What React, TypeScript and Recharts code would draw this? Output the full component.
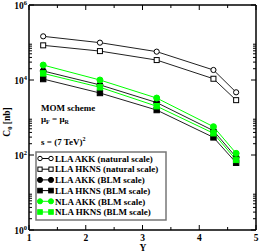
import { LineChart, Line, XAxis, YAxis } from 'recharts';

// rapidity points
const rapidity = [1.25, 2.25, 3.25, 4.25, 4.65];

// C0 [nb]
const llaAkkNatural = [146000, 99000, 57000, 18500, 4700];
const llaHknsNatural = [84000, 59000, 34000, 10800, 2900];
const llaAkkBlm = [17400, 7400, 2500, 445, 87];
const llaHknsBlm = [10600, 4500, 1580, 295, 62];
const nlaAkkBlm = [25000, 10000, 3300, 569, 111];
const nlaHknsBlm = [15000, 6400, 2000, 380, 74];

const xMajorTicks = [1, 2, 3, 4, 5];
const xMinorTicks = [1.5, 2.5, 3.5, 4.5];
const yMajorTicks = [1, 100, 10000, 1000000];
const yExponents = ['0', '2', '4', '6'];
const yMinorTicks = [
  2, 3, 4, 5, 6, 7, 8, 9,
  200, 300, 400, 500, 600, 700, 800, 900,
  20000, 30000, 40000, 50000, 60000, 70000, 80000, 90000,
];

const data = rapidity.map((y, i) => ({
  y,
  llaAkkNatural: llaAkkNatural[i],
  llaHknsNatural: llaHknsNatural[i],
  llaAkkBlm: llaAkkBlm[i],
  llaHknsBlm: llaHknsBlm[i],
  nlaAkkBlm: nlaAkkBlm[i],
  nlaHknsBlm: nlaHknsBlm[i],
}));

const FONT = '"Liberation Serif", "Times New Roman", serif';
const GREEN = '#00ff00';

const xTicks = [...xMajorTicks, ...xMinorTicks].sort((a, b) => a - b);
const yTicks = [...yMajorTicks, ...yMinorTicks].sort((a, b) => a - b);

type Marker = 'circle' | 'square';

function MarkerShape({ cx, cy, kind, fill, stroke, size = 1 }: { cx: number; cy: number; kind: Marker; fill: string; stroke: string; size?: number }) {
  if (kind === 'circle') return <circle cx={cx} cy={cy} r={(fill === '#fff' ? 2.6 : 3) * size} fill={fill} stroke={stroke} strokeWidth={1} />;
  const s = (fill === '#fff' ? 2.5 : 2.7) * size;
  return <rect x={cx - s} y={cy - s} width={s * 2} height={s * 2} fill={fill} stroke={stroke} strokeWidth={1} />;
}

const makeDot = (kind: Marker, fill: string, stroke: string) => (props: any) => (
  <MarkerShape key={props.index} cx={props.cx} cy={props.cy} kind={kind} fill={fill} stroke={stroke} />
);

function BottomTick({ x, y, payload }: any) {
  const major = xMajorTicks.includes(payload.value);
  return (
    <g>
      <line x1={x} x2={x} y1={y} y2={y - (major ? 5 : 3)} stroke="#000" />
      {major && (
        <text x={x} y={y + 10.5} textAnchor="middle" fontFamily={FONT} fontWeight="bold" fontSize={9.5} fill="#000">
          {payload.value}
        </text>
      )}
    </g>
  );
}

function TopTick({ x, y, payload }: any) {
  const major = xMajorTicks.includes(payload.value);
  return <line x1={x} x2={x} y1={y} y2={y + (major ? 5 : 3)} stroke="#000" />;
}

function LeftTick({ x, y, payload }: any) {
  const idx = yMajorTicks.indexOf(payload.value);
  const major = idx >= 0;
  return (
    <g>
      <line x1={x} x2={x + (major ? 5 : 3)} y1={y} y2={y} stroke="#000" />
      {major && (
        <text x={x - 2} y={y + 4} textAnchor="end" fontFamily={FONT} fontWeight="bold" fontSize={9.5} fill="#000">
          10<tspan dy={-4} fontSize={6.5}>{yExponents[idx]}</tspan>
        </text>
      )}
    </g>
  );
}

function RightTick({ x, y, payload }: any) {
  const major = yMajorTicks.includes(payload.value);
  return <line x1={x} x2={x - (major ? 5 : 3)} y1={y} y2={y} stroke="#000" />;
}

const legendRows: Array<{ label: string; kind: Marker; fill: string; stroke: string; line: string }> = [
  { label: 'LLA AKK (natural scale)', kind: 'circle', fill: '#fff', stroke: '#000', line: '#000' },
  { label: 'LLA HKNS (natural scale)', kind: 'square', fill: '#fff', stroke: '#000', line: '#000' },
  { label: 'LLA AKK (BLM scale)', kind: 'circle', fill: '#000', stroke: '#000', line: '#000' },
  { label: 'LLA HKNS (BLM scale)', kind: 'square', fill: '#000', stroke: '#000', line: '#000' },
  { label: 'NLA AKK (BLM scale)', kind: 'circle', fill: GREEN, stroke: GREEN, line: GREEN },
  { label: 'NLA HKNS (BLM scale)', kind: 'square', fill: GREEN, stroke: GREEN, line: GREEN },
];

function Overlay() {
  return (
    <svg width={259} height={252} style={{ position: 'absolute', left: 0, top: 0, pointerEvents: 'none' }}>
      <g fontFamily={FONT} fontWeight="bold" fontSize={9} fill="#000">
        <text x={10} y={122} textAnchor="middle" transform="rotate(-90 10 122)" fontSize={9.5}>
          C<tspan dy={2} fontSize={6.5}>0</tspan>
          <tspan dy={-2}> [nb]</tspan>
        </text>
        <text x={143} y={251} textAnchor="middle" fontSize={9.5}>Y</text>
        <text x={41} y={111}>MOM scheme</text>
        <text x={41} y={122}>
          μ<tspan dy={2} fontSize={6}>F</tspan>
          <tspan dy={-2}> = μ</tspan>
          <tspan dy={2} fontSize={6}>R</tspan>
        </text>
        <text x={41} y={145}>
          s = (7 TeV)<tspan dy={-4} fontSize={6}>2</tspan>
        </text>
      </g>
      <rect x={36} y={152} width={130} height={68} fill="#fff" stroke="#777" strokeWidth={1.5} />
      {legendRows.map((r, i) => {
        const cy = 158.5 + i * 10.7;
        return (
          <g key={r.label}>
            <line x1={40} x2={51} y1={cy} y2={cy} stroke={r.line} strokeWidth={1} />
            <MarkerShape cx={40} cy={cy} kind={r.kind} fill={r.fill} stroke={r.stroke} size={0.85} />
            <MarkerShape cx={51} cy={cy} kind={r.kind} fill={r.fill} stroke={r.stroke} size={0.85} />
            <text x={55} y={cy + 3.2} fontFamily={FONT} fontWeight="bold" fontSize={9} fill="#000">
              {r.label}
            </text>
          </g>
        );
      })}
    </svg>
  );
}

export default function App() {
  return (
    <div style={{ position: 'absolute', left: 0, top: 0, width: 259, height: 252, background: '#fff' }}>
      <LineChart width={259} height={252} data={data} margin={{ top: 5, right: 3, bottom: 0, left: 0 }}>
        <XAxis
          xAxisId="b"
          dataKey="y"
          type="number"
          domain={[1, 5]}
          allowDataOverflow
          ticks={xTicks}
          interval={0}
          height={22}
          tickSize={0}
          tickMargin={0}
          tick={BottomTick}
          axisLine={{ stroke: '#000', strokeWidth: 1.5 }}
        />
        <XAxis
          xAxisId="t"
          dataKey="y"
          type="number"
          orientation="top"
          mirror
          domain={[1, 5]}
          allowDataOverflow
          ticks={xTicks}
          interval={0}
          height={10}
          tickSize={0}
          tickMargin={0}
          tick={TopTick}
          axisLine={{ stroke: '#000', strokeWidth: 1.5 }}
        />
        <YAxis
          yAxisId="l"
          scale="log"
          domain={[1, 1000000]}
          allowDataOverflow
          ticks={yTicks}
          interval={0}
          width={29}
          tickSize={0}
          tickMargin={0}
          tick={LeftTick}
          axisLine={{ stroke: '#000', strokeWidth: 1.5 }}
        />
        <YAxis
          yAxisId="r"
          orientation="right"
          mirror
          scale="log"
          domain={[1, 1000000]}
          allowDataOverflow
          ticks={yTicks}
          interval={0}
          width={10}
          tickSize={0}
          tickMargin={0}
          tick={RightTick}
          axisLine={{ stroke: '#000', strokeWidth: 1.5 }}
        />
        <Line xAxisId="b" yAxisId="l" dataKey="llaAkkNatural" stroke="#222" strokeWidth={1} isAnimationActive={false} dot={makeDot('circle', '#fff', '#000')} />
        <Line xAxisId="b" yAxisId="l" dataKey="llaHknsNatural" stroke="#222" strokeWidth={1} isAnimationActive={false} dot={makeDot('square', '#fff', '#000')} />
        <Line xAxisId="b" yAxisId="l" dataKey="llaHknsBlm" stroke="#222" strokeWidth={1} isAnimationActive={false} dot={makeDot('square', '#000', '#000')} />
        <Line xAxisId="b" yAxisId="l" dataKey="llaAkkBlm" stroke="#222" strokeWidth={1} isAnimationActive={false} dot={makeDot('circle', '#000', '#000')} />
        <Line xAxisId="b" yAxisId="l" dataKey="nlaHknsBlm" stroke={GREEN} strokeWidth={1} isAnimationActive={false} dot={makeDot('square', GREEN, GREEN)} />
        <Line xAxisId="b" yAxisId="l" dataKey="nlaAkkBlm" stroke={GREEN} strokeWidth={1} isAnimationActive={false} dot={makeDot('circle', GREEN, GREEN)} />
      </LineChart>
      <Overlay />
    </div>
  );
}
